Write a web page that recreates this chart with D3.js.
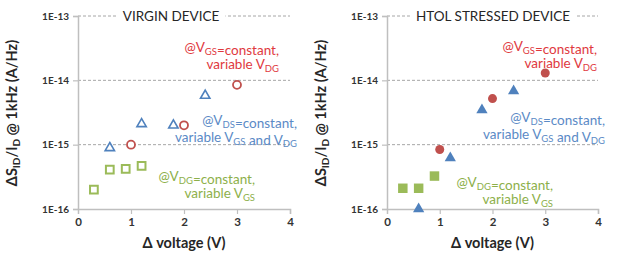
<!DOCTYPE html>
<html>
<head>
<meta charset="utf-8">
<script src="https://cdn.jsdelivr.net/npm/d3@7"></script>
<style>
  body { margin: 0; background: #fff; }
  svg { display: block; font-family: Lato, "Open Sans", sans-serif; }
</style>
</head>
<body>
<svg id="chart" width="627" height="258"></svg>
<script>
// data
var yTicks = [1e-16, 1e-15, 1e-14, 1e-13];
var yTickLabels = ["1E-16", "1E-15", "1E-14", "1E-13"];
var xTicks = [0, 1, 2, 3, 4];

// virgin device
var virginVgsX = [1.0, 2.0, 3.0];
var virginVgsY = [1.0e-15, 2.0e-15, 8.5e-15];
var virginVdsX = [0.6, 1.2, 1.8, 2.4];
var virginVdsY = [8.9e-16, 2.1e-15, 2.0e-15, 5.8e-15];
var virginVdgX = [0.3, 0.6, 0.9, 1.2];
var virginVdgY = [2.0e-16, 4.1e-16, 4.2e-16, 4.7e-16];

// HTOL stressed device
var htolVgsX = [1.0, 2.0, 3.0];
var htolVgsY = [8.4e-16, 5.2e-15, 1.3e-14];
var htolVdsX = [0.6, 1.2, 1.8, 2.4];
var htolVdsY = [1.0e-16, 6.2e-16, 3.45e-15, 6.8e-15];
var htolVdgX = [0.3, 0.6, 0.9];
var htolVdgY = [2.1e-16, 2.1e-16, 3.25e-16];

var RED = "#c0504d", BLUE = "#4f81bd", GREEN = "#9bbb59";
var RED_T = "#e0393e", BLUE_T = "#5b8ac6", GREEN_T = "#8db04a";

var svg = d3.select("#chart");

function zip(xs, ys) { return xs.map(function(x, i) { return [x, ys[i]]; }); }

function panel(opt) {
    var xScale = d3.scaleLinear().domain([0, 4]).range([opt.x0, opt.x1]);
    var yScale = d3.scaleLog().domain([1e-16, 1e-13]).range([209, 16]);
    var g = svg.append("g");

    // dashed grid
    g.selectAll("line.grid")
        .data(yTicks.slice(1))
        .enter().append("line")
        .attr("x1", opt.x0).attr("x2", opt.x1)
        .attr("y1", d => yScale(d)).attr("y2", d => yScale(d))
        .attr("stroke", "#a6a6a6")
        .attr("stroke-dasharray", "3,2")
        .attr("stroke-width", 1);

    // title with white knockout
    var t = g.append("text")
        .attr("x", opt.titleX).attr("y", yScale(1e-13) + 5)
        .attr("text-anchor", "middle")
        .attr("font-size", 13.5)
        .attr("fill", "#262626")
        .text(opt.title);
    var bb = t.node().getBBox();
    g.insert("rect", "text")
        .attr("x", bb.x - 6).attr("y", bb.y)
        .attr("width", bb.width + 12).attr("height", bb.height)
        .attr("fill", "#fff");

    // axes
    var yAxis = d3.axisLeft(yScale).tickValues(yTicks)
        .tickFormat((d, i) => yTickLabels[i]).tickSize(5).tickPadding(4);
    var ya = g.append("g").attr("transform", "translate(" + opt.x0 + ",0)").call(yAxis);
    var xAxis = d3.axisBottom(xScale).tickValues(xTicks)
        .tickFormat(d3.format("d")).tickSize(5).tickPadding(4);
    var xa = g.append("g").attr("transform", "translate(0,209)").call(xAxis);
    [ya, xa].forEach(function(a) {
        a.select(".domain").attr("stroke", "#bfbfbf").attr("stroke-width", 1.5);
        a.selectAll(".tick line").attr("stroke", "#bfbfbf").attr("stroke-width", 1.2);
        a.selectAll("text").attr("fill", "#333").attr("font-family", "Lato, sans-serif")
            .attr("font-weight", 700);
    });
    ya.selectAll("text").attr("font-size", 10);
    xa.selectAll("text").attr("font-size", 11.5);
    xa.select(".tick line").remove();

    // axis titles
    g.append("text")
        .attr("x", (opt.x0 + opt.x1) / 2).attr("y", 248)
        .attr("text-anchor", "middle")
        .attr("font-size", 14.5).attr("font-weight", 700).attr("fill", "#262626")
        .text("Δ voltage (V)");
    var yl = g.append("text")
        .attr("transform", "translate(" + (opt.x0 - 61) + ",113) rotate(-90)")
        .attr("text-anchor", "middle")
        .attr("font-size", 14.5).attr("font-weight", 700).attr("fill", "#262626");
    yl.append("tspan").text("ΔS");
    yl.append("tspan").attr("font-size", 10).attr("dy", 3).text("ID");
    yl.append("tspan").attr("dy", -3).text("/I");
    yl.append("tspan").attr("font-size", 10).attr("dy", 3).text("D");
    yl.append("tspan").attr("dy", -3).text(" @ 1kHz (A/Hz)");

    // markers
    var circ = zip(opt.vgsX, opt.vgsY), tri = zip(opt.vdsX, opt.vdsY), sq = zip(opt.vdgX, opt.vdgY);
    var filled = opt.filled;
    g.append("g").selectAll("path").data(sq).enter().append("path")
        .attr("transform", d => "translate(" + xScale(d[0]) + "," + yScale(d[1]) + ")")
        .attr("d", d3.symbol().type(d3.symbolSquare).size(filled ? 90 : 60)())
        .attr("fill", filled ? GREEN : "#fff")
        .attr("stroke", GREEN).attr("stroke-width", filled ? 0 : 2);
    g.append("g").selectAll("path").data(tri).enter().append("path")
        .attr("transform", d => "translate(" + xScale(d[0]) + "," + yScale(d[1]) + ")")
        .attr("d", d3.symbol().type(d3.symbolTriangle).size(filled ? 55 : 38)())
        .attr("fill", filled ? BLUE : "#fff")
        .attr("stroke", BLUE).attr("stroke-width", filled ? 0 : 1.6);
    g.append("g").selectAll("circle").data(circ).enter().append("circle")
        .attr("cx", d => xScale(d[0])).attr("cy", d => yScale(d[1]))
        .attr("r", filled ? 4.5 : 4)
        .attr("fill", filled ? RED : "#fff")
        .attr("stroke", RED).attr("stroke-width", filled ? 0 : 1.8);

    // annotations, two rows each
    opt.notes.forEach(function(n) {
        n.lines.forEach(function(line, i) {
            var tx = g.append("text")
                .attr("x", n.x).attr("y", n.y + i * 17)
                .attr("text-anchor", "end")
                .attr("font-size", 13.5).attr("fill", n.color);
            line.forEach(function(part) {
                if (part.sub) {
                    tx.append("tspan").attr("font-size", 9.5).attr("dy", 2.5).text(part.sub);
                    tx.append("tspan").attr("dy", -2.5).text("");
                } else {
                    tx.append("tspan").text(part.t);
                }
            });
        });
    });
}

function note(color, x, y, a, b) {
    return { color: color, x: x, y: y, lines: [a, b] };
}

panel({
    x0: 78, x1: 290, titleX: 171, title: "VIRGIN DEVICE", filled: false,
    vgsX: virginVgsX, vgsY: virginVgsY, vdsX: virginVdsX, vdsY: virginVdsY,
    vdgX: virginVdgX, vdgY: virginVdgY,
    notes: [
        note(RED_T, 279, 52, [{t: "@V"}, {sub: "GS"}, {t: "=constant,"}], [{t: "variable V"}, {sub: "DG"}]),
        note(BLUE_T, 297, 125, [{t: "@V"}, {sub: "DS"}, {t: "=constant,"}], [{t: "variable V"}, {sub: "GS"}, {t: " and V"}, {sub: "DG"}]),
        note(GREEN_T, 255, 181, [{t: "@V"}, {sub: "DG"}, {t: "=constant,"}], [{t: "variable V"}, {sub: "GS"}])
    ]
});

panel({
    x0: 387, x1: 598, titleX: 493, title: "HTOL STRESSED DEVICE", filled: true,
    vgsX: htolVgsX, vgsY: htolVgsY, vdsX: htolVdsX, vdsY: htolVdsY,
    vdgX: htolVdgX, vdgY: htolVdgY,
    notes: [
        note(RED_T, 597, 51, [{t: "@V"}, {sub: "GS"}, {t: "=constant,"}], [{t: "variable V"}, {sub: "DG"}]),
        note(BLUE_T, 605, 122, [{t: "@V"}, {sub: "DS"}, {t: "=constant,"}], [{t: "variable V"}, {sub: "GS"}, {t: " and V"}, {sub: "DG"}]),
        note(GREEN_T, 553, 187, [{t: "@V"}, {sub: "DG"}, {t: "=constant,"}], [{t: "variable V"}, {sub: "GS"}])
    ]
});
</script>
</body>
</html>
